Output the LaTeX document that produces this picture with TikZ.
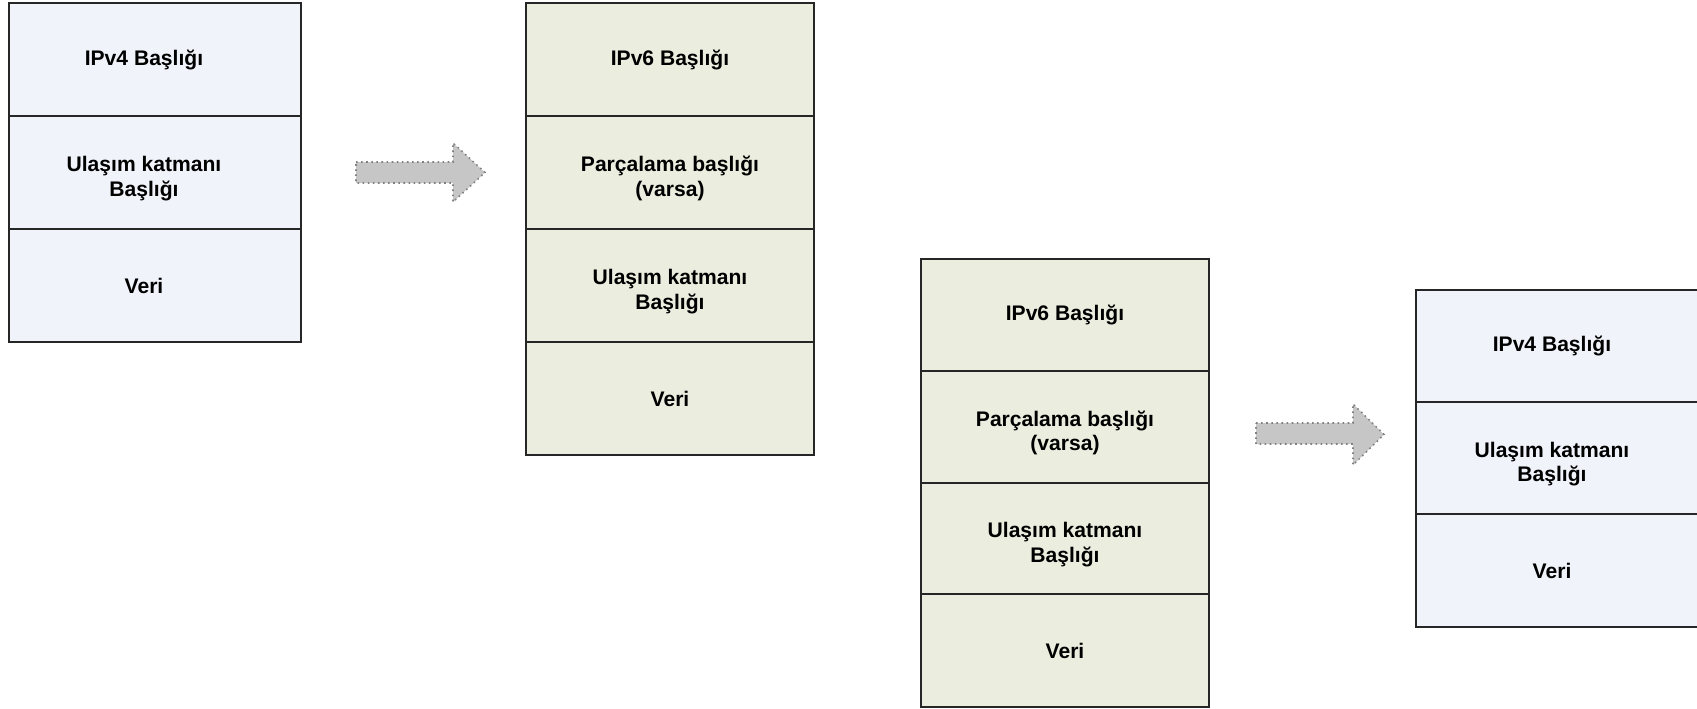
\documentclass[tikz,border=0pt]{standalone}
\usepackage{fontspec}
\setsansfont{Liberation Sans}
\definecolor{vdortfill}{HTML}{F0F3F9}
\definecolor{valtifill}{HTML}{EBEEDF}
\definecolor{okgri}{HTML}{C6C6C6}
\tikzset{
  katman/.style={draw=black!85, line width=0.9pt},
  yazi/.style={font=\sffamily\bfseries\fontsize{12}{13.8}\selectfont, align=center},
  ikisatir/.style={yazi, yshift=-0.12cm},
  solkay/.style={xshift=-0.22cm}
}
\begin{document}
\begin{tikzpicture}[x=0.02cm,y=-0.02cm]
  \useasboundingbox (0,0) rectangle (1697,708);
  % IPv4 paketi (sol)
  \draw[katman,fill=vdortfill] (9,3) rectangle node[yazi,solkay] (a1) {IPv4 Başlığı} (301,116);
  \draw[katman,fill=vdortfill] (9,116) rectangle node[ikisatir,solkay] (a2) {Ulaşım katmanı\\Başlığı} (301,229);
  \draw[katman,fill=vdortfill] (9,229) rectangle node[yazi,solkay] (a3) {Veri} (301,342);
  % IPv6 paketi (ust)
  \draw[katman,fill=valtifill] (526,3) rectangle node[yazi] (b1) {IPv6 Başlığı} (814,116);
  \draw[katman,fill=valtifill] (526,116) rectangle node[ikisatir] (b2) {Parçalama başlığı\\(varsa)} (814,229);
  \draw[katman,fill=valtifill] (526,229) rectangle node[ikisatir] (b3) {Ulaşım katmanı\\Başlığı} (814,342);
  \draw[katman,fill=valtifill] (526,342) rectangle node[yazi] (b4) {Veri} (814,455);
  % IPv6 paketi (alt)
  \draw[katman,fill=valtifill] (921,259) rectangle node[yazi] (c1) {IPv6 Başlığı} (1209,371);
  \draw[katman,fill=valtifill] (921,371) rectangle node[ikisatir] (c2) {Parçalama başlığı\\(varsa)} (1209,483);
  \draw[katman,fill=valtifill] (921,483) rectangle node[ikisatir] (c3) {Ulaşım katmanı\\Başlığı} (1209,594);
  \draw[katman,fill=valtifill] (921,594) rectangle node[yazi] (c4) {Veri} (1209,707);
  % IPv4 paketi (sag), sag kenari sayfanin disinda
  \draw[katman,fill=vdortfill] (1416,290) rectangle node[yazi,xshift=-0.16cm] (d1) {IPv4 Başlığı} (1704,402);
  \draw[katman,fill=vdortfill] (1416,402) rectangle node[ikisatir,xshift=-0.16cm] (d2) {Ulaşım katmanı\\Başlığı} (1704,514);
  \draw[katman,fill=vdortfill] (1416,514) rectangle node[yazi,xshift=-0.16cm] (d3) {Veri} (1704,627);
  % oklar
  \draw[fill=okgri, draw=black!50, dotted, line width=0.9pt] (356,162) -- (453,162) -- (453,143) -- (485,172.5) -- (453,202) -- (453,183) -- (356,183) -- cycle;
  \draw[fill=okgri, draw=black!50, dotted, line width=0.9pt] (1256,423) -- (1353,423) -- (1353,404) -- (1384,434.5) -- (1353,465) -- (1353,444) -- (1256,444) -- cycle;
\end{tikzpicture}
\end{document}
